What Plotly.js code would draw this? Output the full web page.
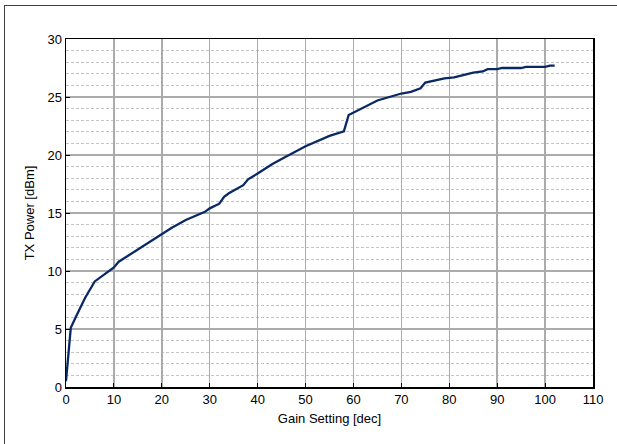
<!DOCTYPE html>
<html>
<head>
<meta charset="utf-8">
<script src="https://cdn.plot.ly/plotly-3.0.1.min.js"></script>
<style>
  html, body { margin: 0; padding: 0; background: #fff; overflow: hidden; }
  #frame { position: absolute; left: 4px; top: 5px; width: 630px; height: 460px; border: 1px solid #404040; box-sizing: border-box; }
  #chart { position: absolute; left: 0; top: 0; width: 617px; height: 444px; }
</style>
</head>
<body>
<div id="frame"></div>
<div id="chart"></div>
<script>
const gainSetting = [0, 1, 2, 4, 6, 8, 10, 11, 14, 17, 20, 22, 25, 29, 30, 32, 33, 34, 37, 38, 40, 43, 45, 48, 50, 55, 58, 59, 60, 62, 65, 70, 72, 74, 75, 79, 81, 85, 87, 88, 90, 91, 95, 96, 100, 101, 102];
const txPower = [0.5, 5.1, 6.0, 7.7, 9.1, 9.7, 10.3, 10.8, 11.6, 12.4, 13.2, 13.7, 14.4, 15.1, 15.4, 15.8, 16.4, 16.7, 17.4, 17.9, 18.4, 19.2, 19.65, 20.3, 20.75, 21.65, 22.05, 23.45, 23.65, 24.05, 24.7, 25.3, 25.45, 25.75, 26.25, 26.6, 26.7, 27.1, 27.2, 27.4, 27.4, 27.5, 27.5, 27.6, 27.6, 27.7, 27.7];
const xTicks = [0, 10, 20, 30, 40, 50, 60, 70, 80, 90, 100, 110];
const yTicks = [0, 5, 10, 15, 20, 25, 30];

const trace = {
  x: gainSetting,
  y: txPower,
  type: 'scatter',
  mode: 'lines',
  line: { color: '#0a2865', width: 2.3 },
  hoverinfo: 'x+y'
};

const fontFam = '"Liberation Sans", Arial, sans-serif';
const layout = {
  width: 617,
  height: 444,
  margin: { l: 66, r: 24, t: 39, b: 57 },
  paper_bgcolor: 'rgba(0,0,0,0)',
  plot_bgcolor: '#ffffff',
  showlegend: false,
  font: { family: fontFam, size: 13, color: '#000' },
  xaxis: {
    range: [0, 110],
    tickvals: xTicks,
    ticktext: xTicks.map(String),
    showgrid: true,
    gridcolor: '#ababab',
    gridwidth: 1.5,
    zeroline: false,
    showline: true,
    linecolor: '#000',
    linewidth: 1.5,
    mirror: true,
    ticks: 'inside',
    ticklen: 4,
    tickcolor: '#000',
    tickfont: { family: fontFam, size: 13 },
    title: { text: 'Gain Setting [dec]', font: { family: fontFam, size: 13 }, standoff: 8 }
  },
  yaxis: {
    range: [0, 30],
    tickvals: yTicks,
    ticktext: yTicks.map(String),
    showgrid: true,
    gridcolor: '#ababab',
    gridwidth: 1.5,
    zeroline: false,
    showline: true,
    linecolor: '#000',
    linewidth: 1.5,
    mirror: true,
    ticks: 'inside',
    ticklen: 4,
    tickcolor: '#000',
    tickfont: { family: fontFam, size: 13 },
    minor: { dtick: 1, showgrid: true, gridcolor: '#c4c4c4', griddash: '3px,2px', gridwidth: 1, ticks: '' },
    title: { text: 'TX Power [dBm]', font: { family: fontFam, size: 13 }, standoff: 10 }
  }
};

Plotly.newPlot('chart', [trace], layout, { staticPlot: true, displayModeBar: false });
</script>
</body>
</html>
